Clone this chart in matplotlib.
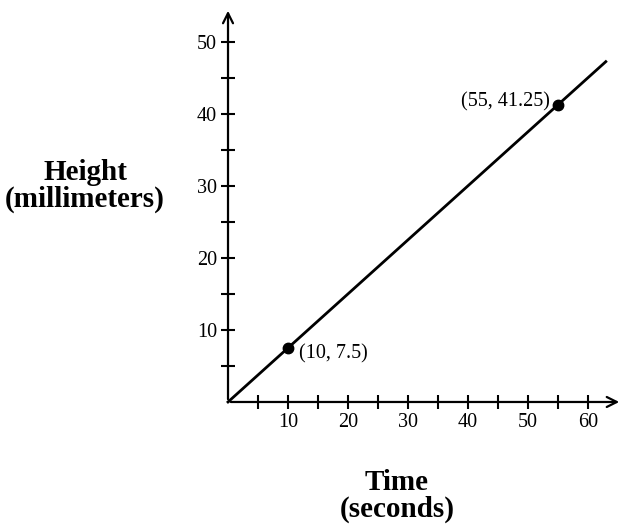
import numpy as np
import matplotlib
matplotlib.use("Agg")
import matplotlib.pyplot as plt

plt.rcParams['font.family'] = ['Liberation Serif', 'DejaVu Serif']

# data
line_x = [0, 63]
line_y = [0, 47.25]
pts_x = [10, 55]
pts_y = [7.5, 41.25]
pt_labels = ["(10, 7.5)", "(55, 41.25)"]
x_ticks = [5, 10, 15, 20, 25, 30, 35, 40, 45, 50, 55, 60]
y_ticks = [5, 10, 15, 20, 25, 30, 35, 40, 45, 50]
x_max, y_max = 65.7, 54.7

fig = plt.figure(figsize=(6.24, 5.29), dpi=100)
ax = fig.add_axes([0.3654, 0.2401, 0.9968 - 0.3654, 0.9849 - 0.2401])
ax.set_xlim(0, x_max)
ax.set_ylim(0, y_max)
for s in ax.spines.values():
    s.set_visible(False)

# axes with arrows
ax.annotate("", xy=(x_max, 0), xytext=(0, 0),
            arrowprops=dict(arrowstyle="->", lw=1.6, color="black", mutation_scale=18),
            annotation_clip=False)
ax.annotate("", xy=(0, y_max), xytext=(0, 0),
            arrowprops=dict(arrowstyle="->", lw=1.6, color="black", mutation_scale=18),
            annotation_clip=False)

ax.set_xticks(x_ticks)
ax.set_xticklabels([str(v) if v % 10 == 0 else "" for v in x_ticks])
ax.set_yticks(y_ticks)
ax.set_yticklabels([str(v) if v % 10 == 0 else "" for v in y_ticks])
ax.tick_params(direction="inout", length=10, width=1.5, labelsize=14.5, pad=3)

ax.plot(line_x, line_y, color="black", lw=2.0, clip_on=False)
ax.plot(pts_x, pts_y, "o", color="black", ms=7.5, clip_on=False)
ax.annotate(pt_labels[0], (pts_x[0], pts_y[0]), xytext=(8, -4),
            textcoords="offset points", ha="left", va="center", fontsize=14.5)
ax.annotate(pt_labels[1], (pts_x[1], pts_y[1]), xytext=(-6, 2),
            textcoords="offset points", ha="right", va="center", fontsize=14.5)

fig.text(85 / 624, 1 - 186 / 529, "Height\n(millimeters)", ha="center", va="center",
         fontsize=21, fontweight="bold", linespacing=1.0)
fig.text(397 / 624, 1 - 496 / 529, "Time\n(seconds)", ha="center", va="center",
         fontsize=21, fontweight="bold", linespacing=1.0)

fig.savefig("out.png", dpi=100)
